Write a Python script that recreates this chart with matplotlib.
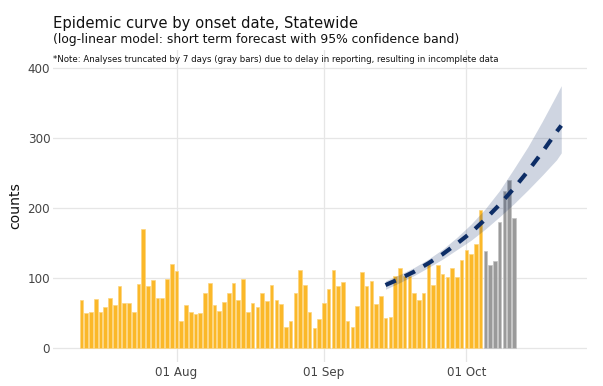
import matplotlib
matplotlib.use("Agg")
import matplotlib.pyplot as plt
import matplotlib.dates as mdates
import numpy as np
import pandas as pd

# ---- data ----
start_date = "2020-07-12"
observed_counts = [
    # Jul 12 - Jul 31
    69, 50, 52, 70, 51, 58, 71, 62, 89, 65, 64, 52, 91, 170, 89, 97, 71, 72, 99, 120,
    # Aug 1 - Aug 31
    110, 39, 61, 52, 48, 50, 78, 93, 61, 53, 66, 78, 93, 69, 98, 52, 65, 58, 78, 67,
    90, 69, 63, 30, 38, 78, 111, 90, 51, 29, 41,
    # Sep 1 - Sep 30
    65, 85, 112, 89, 94, 38, 30, 60, 109, 88, 96, 63, 74, 43, 44, 103, 115, 103, 103, 78,
    68, 79, 120, 90, 119, 106, 101, 115, 101, 126,
    # Oct 1 - Oct 4
    140, 135, 149, 197,
]
truncated_counts = [139, 118, 124, 180, 224, 240, 186]  # Oct 5 - Oct 11 (gray)

forecast_dates = ["2020-09-14", "2020-09-17", "2020-09-20", "2020-09-23", "2020-09-26",
                  "2020-09-29", "2020-10-02", "2020-10-05", "2020-10-08", "2020-10-11",
                  "2020-10-14", "2020-10-17", "2020-10-20", "2020-10-21"]
forecast_fit = [90, 99, 109, 121, 134, 149, 165, 184, 205, 228, 253, 280, 309, 318]
forecast_upper = [96, 105, 115, 127, 141, 158, 177, 199, 225, 256, 288, 324, 362, 375]
forecast_lower = [84, 93.5, 103.5, 115, 127, 140.5, 154, 170, 187.5, 206, 226, 247, 269, 279]

xtick_dates = ["2020-08-01", "2020-09-01", "2020-10-01"]
xtick_labels = ["01 Aug", "01 Sep", "01 Oct"]
yticks = [0, 100, 200, 300, 400]

# ---- build ----
obs_dates = pd.date_range(start_date, periods=len(observed_counts), freq="D")
trunc_dates = pd.date_range(obs_dates[-1] + pd.Timedelta(days=1),
                            periods=len(truncated_counts), freq="D")
fc_dates = pd.to_datetime(forecast_dates)

W, H = 603, 386
fig = plt.figure(figsize=(W / 100, H / 100), dpi=100)
left, right, top, bottom = 53, 587, 50, 362
ax = fig.add_axes([left / W, (H - bottom) / H, (right - left) / W, (bottom - top) / H])

ax.bar(obs_dates, observed_counts, width=0.74, color="#fbb829",
       edgecolor="#fdd57e", linewidth=0.5, zorder=2)
ax.bar(trunc_dates, truncated_counts, width=0.74, color="#9a9a9a",
       edgecolor="#c4c4c4", linewidth=0.5, zorder=2)

ax.fill_between(fc_dates, forecast_lower, forecast_upper, color="#10306b",
                alpha=0.2, linewidth=0, zorder=3)
ax.plot(fc_dates, forecast_fit, color="#0d2d66", linewidth=3,
        linestyle=(0, (2.7, 2.4)), zorder=4)

ax.set_xlim(pd.Timestamp("2020-07-06"), pd.Timestamp("2020-10-26 10:00"))
ax.set_ylim(-20, 426)
ax.set_yticks(yticks)
ax.set_xticks(pd.to_datetime(xtick_dates))
ax.set_xticklabels(xtick_labels)

for s in ax.spines.values():
    s.set_visible(False)
ax.grid(True, color="#e6e6e6", linewidth=0.9, zorder=0)
ax.set_axisbelow(True)
ax.tick_params(axis="both", length=0, labelsize=8.6, colors="#444444")
ax.tick_params(axis="y", pad=2)
ax.tick_params(axis="x", pad=3)
ax.set_ylabel("counts", fontsize=10.1, color="#111111", labelpad=4)

fig.text(left / W, 1 - 28 / H, "Epidemic curve by onset date, Statewide",
         fontsize=10.6, color="#111111", ha="left", va="baseline")
fig.text(left / W, 1 - 43 / H,
         "(log-linear model: short term forecast with 95% confidence band)",
         fontsize=8.9, color="#111111", ha="left", va="baseline")
fig.text(left / W, 1 - 62 / H,
         "*Note: Analyses truncated by 7 days (gray bars) due to delay in reporting, resulting in incomplete data",
         fontsize=6.2, color="#111111", ha="left", va="baseline")

fig.savefig("out.png", dpi=100)
